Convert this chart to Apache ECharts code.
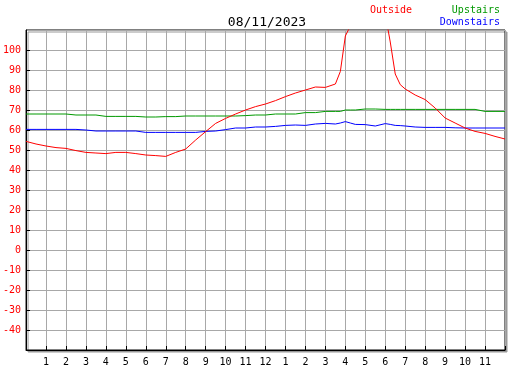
<!DOCTYPE html>
<html>
<head>
<meta charset="utf-8">
<script src="https://cdn.jsdelivr.net/npm/echarts@6/dist/echarts.min.js"></script>
<style>
  html, body { margin: 0; padding: 0; background: #fff; }
  #chart { width: 527px; height: 370px; }
</style>
</head>
<body>
<div id="chart"></div>
<script>
// hours since midnight
const hours = [0, 0.5, 1, 1.5, 2, 2.5, 3, 3.5, 4, 4.5, 5, 5.5, 6, 6.5, 7, 7.5, 8, 8.5, 9, 9.5,
  10, 10.5, 11, 11.5, 12, 12.5, 13, 13.5, 14, 14.5, 15, 15.5, 15.75, 16, 16.25, 16.5, 17, 17.5,
  18, 18.25, 18.5, 18.75, 19, 19.5, 20, 20.5, 21, 21.5, 22, 22.5, 23, 23.5, 24];
const outside = [54.3, 53, 52, 51.2, 50.8, 49.7, 48.8, 48.5, 48.2, 48.8, 48.8, 48.2, 47.5, 47.2, 46.8, 48.8,
  50.5, 55, 59.2, 63.3, 65.8, 68, 70, 71.7, 73, 74.7, 76.7, 78.5, 80, 81.5, 81.3, 83, 89.3, 107, 112, 118,
  125, 125, 118, 104, 88, 82.7, 80.5, 77.5, 75.2, 71, 66, 63.5, 61, 59.3, 58.3, 56.8, 55.5];
const upstairs = [68, 68, 68, 68, 68, 67.5, 67.5, 67.5, 66.8, 66.8, 66.8, 66.8, 66.5, 66.5, 66.7, 66.7,
  67, 67, 67, 67, 67, 67, 67.2, 67.5, 67.5, 68, 68, 68, 68.7, 68.7, 69.3, 69.3, 69.3, 70, 70, 70,
  70.5, 70.5, 70.3, 70.3, 70.3, 70.3, 70.3, 70.3, 70.3, 70.3, 70.3, 70.3, 70.3, 70.3, 69.3, 69.3, 69.3];
const downstairs = [60.3, 60.3, 60.3, 60.3, 60.3, 60.3, 60, 59.5, 59.5, 59.5, 59.5, 59.5, 58.8, 58.8, 58.8, 58.8,
  58.8, 58.8, 59.3, 59.5, 60.2, 61, 61, 61.5, 61.5, 61.8, 62.3, 62.5, 62.3, 63, 63.3, 63, 63.5, 64.2, 63.5, 62.8,
  62.7, 62, 63.2, 62.8, 62.3, 62.2, 62, 61.5, 61.3, 61.3, 61.3, 61.1, 61, 61, 61, 61, 61];

const chartInstance = echarts.init(document.getElementById("chart"));
const mono = "DejaVu Sans Mono";

const pairs = (vals) => hours.map((h, i) => [h, vals[i]]);

const option = {
  animation: false,
  backgroundColor: "#fff",
  textStyle: { fontFamily: mono },
  title: {
    text: "08/11/2023",
    left: 262,
    top: 11,
    textAlign: "center",
    textStyle: { color: "#000", fontSize: 13, fontWeight: "normal", fontFamily: mono },
  },
  graphic: [
    { type: "text", left: 370, top: 5, style: { text: "Outside", fill: "#f00", font: "10px " + mono } },
    { type: "text", right: 27, top: 5, style: { text: "Upstairs", fill: "#009900", font: "10px " + mono } },
    { type: "text", right: 27, top: 17, style: { text: "Downstairs", fill: "#00f", font: "10px " + mono } },
  ],
  grid: {
    left: 25,
    right: 22,
    top: 30,
    bottom: 20,
    show: true,
    backgroundColor: "#fff",
    borderColor: "#000",
    borderWidth: 1,
    shadowColor: "#999",
    shadowOffsetX: 2,
    shadowOffsetY: 2,
    shadowBlur: 0,
  },
  xAxis: {
    type: "value",
    min: 0,
    max: 24,
    interval: 1,
    axisLine: { show: true, onZero: false, lineStyle: { color: "#000", width: 1 } },
    axisTick: { show: true, inside: true, length: 4, lineStyle: { color: "#000" } },
    axisLabel: {
      color: "#000",
      fontSize: 10,
      fontFamily: mono,
      margin: 7,
      formatter: (v) => (v === 0 || v === 24 ? "" : String(v % 12 || 12)),
    },
    splitLine: { show: true, lineStyle: { color: "#a8a8a8", width: 1 } },
  },
  yAxis: {
    type: "value",
    min: -50,
    max: 110,
    interval: 10,
    axisLine: { show: true, onZero: false, lineStyle: { color: "#000", width: 1 } },
    axisTick: { show: true, inside: true, length: 4, lineStyle: { color: "#000" } },
    axisLabel: {
      color: "#f00",
      fontSize: 10,
      fontFamily: mono,
      margin: 5,
      showMinLabel: false,
      showMaxLabel: false,
    },
    splitLine: { show: true, lineStyle: { color: "#a8a8a8", width: 1 } },
  },
  series: [
    {
      name: "Upstairs",
      type: "line",
      symbol: "none",
      clip: true,
      lineStyle: { color: "#009900", width: 1 },
      data: pairs(upstairs),
    },
    {
      name: "Downstairs",
      type: "line",
      symbol: "none",
      clip: true,
      lineStyle: { color: "#00f", width: 1 },
      data: pairs(downstairs),
    },
    {
      name: "Outside",
      type: "line",
      symbol: "none",
      clip: true,
      lineStyle: { color: "#f00", width: 1 },
      data: pairs(outside),
    },
  ],
};

chartInstance.setOption(option);
</script>
</body>
</html>
